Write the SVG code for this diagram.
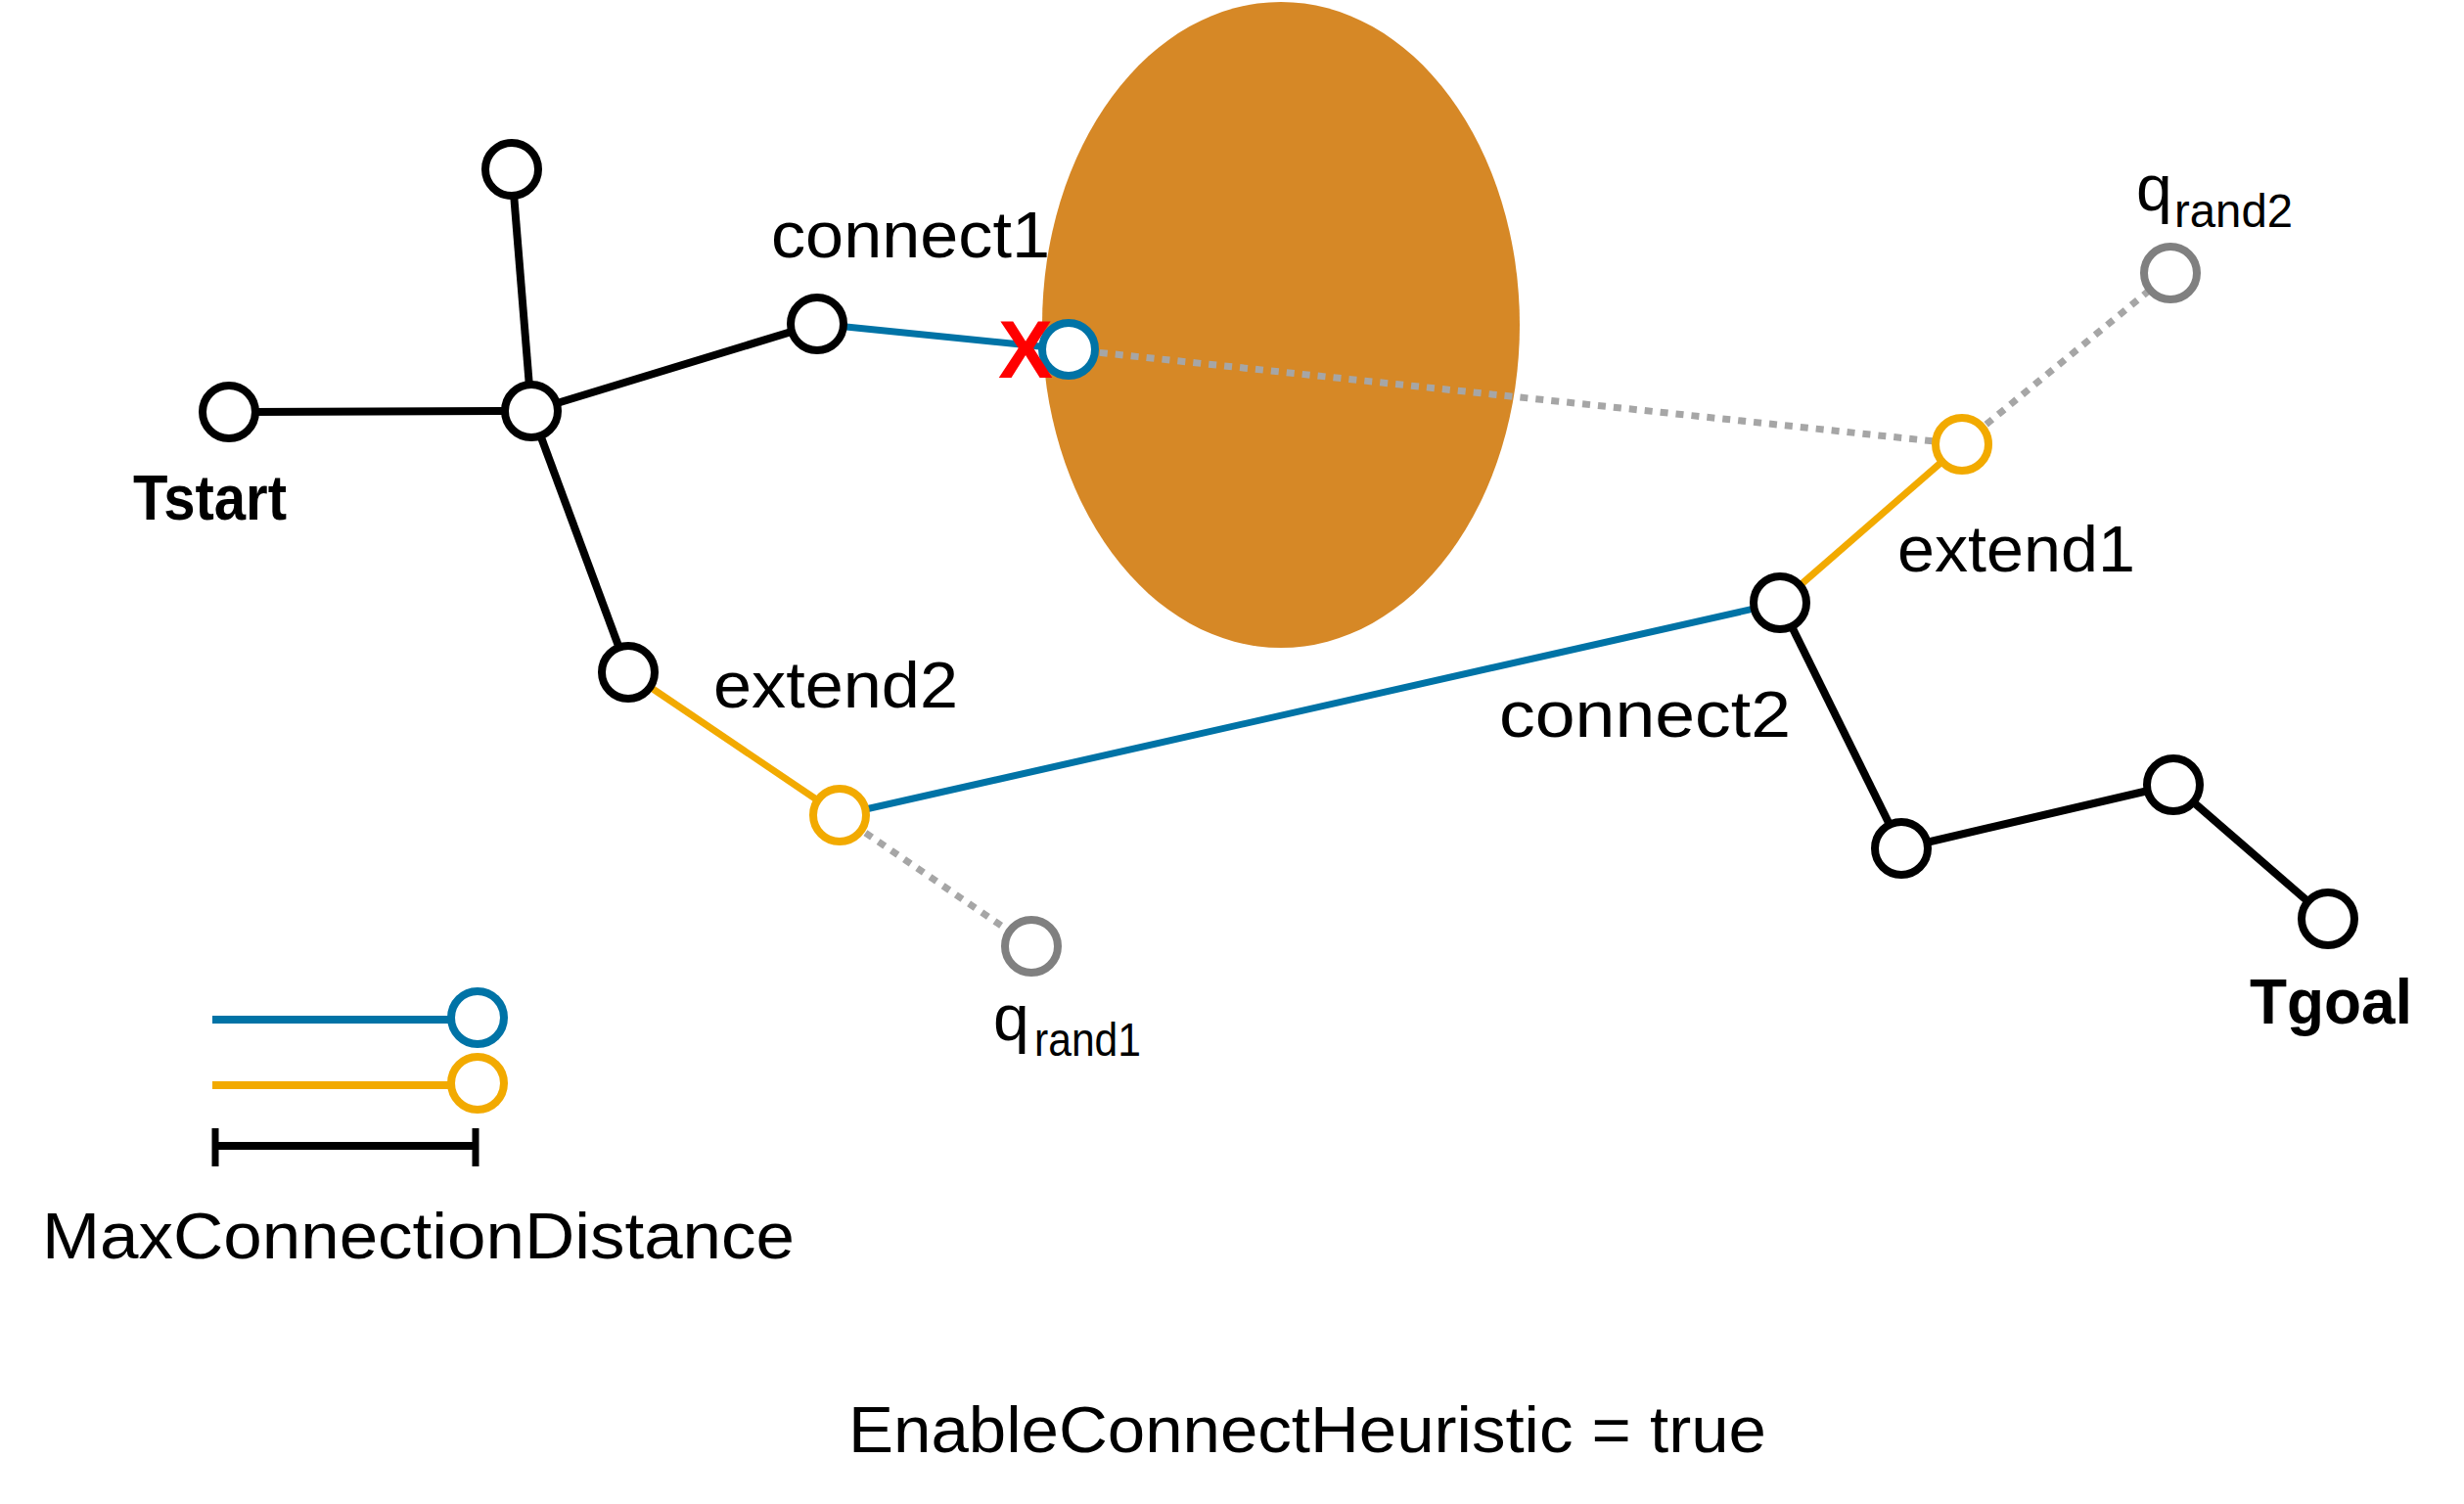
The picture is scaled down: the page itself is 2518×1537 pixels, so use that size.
<svg xmlns="http://www.w3.org/2000/svg" width="2518" height="1537" viewBox="0 0 2518 1537">
  <style>
    .edge { fill: none; stroke: #000; stroke-width: 8; }
    .blue { fill: none; stroke: #0073A6; stroke-width: 7; }
    .orange { fill: none; stroke: #F2AA00; stroke-width: 7; }
    .dots { fill: none; stroke: #A6A6A6; stroke-width: 7; stroke-dasharray: 8 8; }
    .node { fill: #fff; stroke: #000; stroke-width: 8; }
    .bnode { fill: #fff; stroke: #0073A6; stroke-width: 8; }
    .onode { fill: #fff; stroke: #F2AA00; stroke-width: 8; }
    .gnode { fill: #fff; stroke: #808080; stroke-width: 8; }
    .lbl { font-family: "Liberation Sans", Arial, sans-serif; font-size: 66px; fill: #000; }
    .bold { font-family: "Liberation Sans", Arial, sans-serif; font-size: 64px; font-weight: bold; fill: #000; }
    .sub { font-family: "Liberation Sans", Arial, sans-serif; font-size: 48px; fill: #000; }
  </style>
  <rect x="0" y="0" width="2518" height="1537" fill="#fff"/>

  <g id="obstacle">
    <ellipse cx="1309" cy="332" rx="244" ry="330" fill="#D68826"/>
  </g>

  <g id="connectors">
    <line class="edge" x1="523" y1="173" x2="543" y2="420"/>
    <line class="edge" x1="234" y1="421" x2="543" y2="420"/>
    <line class="edge" x1="543" y1="420" x2="835" y2="331"/>
    <line class="edge" x1="543" y1="420" x2="642" y2="687"/>
    <line class="blue" x1="835" y1="331" x2="1092" y2="357"/>
    <line class="dots" x1="1092" y1="357" x2="2005" y2="454"/>
    <line class="dots" x1="2005" y1="454" x2="2218" y2="279"/>
    <line class="orange" x1="642" y1="687" x2="858" y2="833"/>
    <line class="dots" x1="858" y1="833" x2="1054" y2="967"/>
    <line class="blue" x1="858" y1="833" x2="1819" y2="616"/>
    <line class="orange" x1="1819" y1="616" x2="2005" y2="454"/>
    <line class="edge" x1="1819" y1="616" x2="1943" y2="867"/>
    <line class="edge" x1="1943" y1="867" x2="2221" y2="802"/>
    <line class="edge" x1="2221" y1="802" x2="2379" y2="939"/>
  </g>

  <g id="node-top"><circle class="node" cx="523" cy="173" r="27"/></g>
  <g id="node-tstart"><circle class="node" cx="234" cy="421" r="27"/></g>
  <g id="node-hub"><circle class="node" cx="543" cy="420" r="27"/></g>
  <g id="node-b"><circle class="node" cx="835" cy="331" r="27"/></g>
  <g id="node-connect1"><circle class="bnode" cx="1092" cy="357" r="27"/></g>
  <g id="x-mark"><text x="1048" y="386" text-anchor="middle" font-family="Liberation Sans, Arial, sans-serif" font-size="84" font-weight="bold" fill="#FF0000">X</text></g>
  <g id="node-c"><circle class="node" cx="642" cy="687" r="27"/></g>
  <g id="node-extend2"><circle class="onode" cx="858" cy="833" r="27"/></g>
  <g id="node-qrand1"><circle class="gnode" cx="1054" cy="967" r="27"/></g>
  <g id="node-d"><circle class="node" cx="1819" cy="616" r="27"/></g>
  <g id="node-extend1"><circle class="onode" cx="2005" cy="454" r="27"/></g>
  <g id="node-qrand2"><circle class="gnode" cx="2218" cy="279" r="27"/></g>
  <g id="node-e"><circle class="node" cx="1943" cy="867" r="27"/></g>
  <g id="node-f"><circle class="node" cx="2221" cy="802" r="27"/></g>
  <g id="node-tgoal"><circle class="node" cx="2379" cy="939" r="27"/></g>

  <g id="labels">
    <text class="lbl" x="788" y="263" textLength="285" lengthAdjust="spacingAndGlyphs">connect1</text>
    <text class="lbl" x="1532" y="753" textLength="298" lengthAdjust="spacingAndGlyphs">connect2</text>
    <text class="lbl" x="729" y="723" textLength="250" lengthAdjust="spacingAndGlyphs">extend2</text>
    <text class="lbl" x="1939" y="584" textLength="243" lengthAdjust="spacingAndGlyphs">extend1</text>
    <text class="bold" x="136" y="531" textLength="157" lengthAdjust="spacingAndGlyphs">Tstart</text>
    <text class="bold" x="2299" y="1046" textLength="166" lengthAdjust="spacingAndGlyphs">Tgoal</text>
    <text class="lbl" x="1015" y="1063">q</text>
    <text class="sub" x="1057" y="1079" textLength="109" lengthAdjust="spacingAndGlyphs">rand1</text>
    <text class="lbl" x="2183" y="215">q</text>
    <text class="sub" x="2222" y="232" textLength="121" lengthAdjust="spacingAndGlyphs">rand2</text>
    <text class="lbl" x="43" y="1286" textLength="769" lengthAdjust="spacingAndGlyphs">MaxConnectionDistance</text>
    <text class="lbl" x="867" y="1484" textLength="938" lengthAdjust="spacingAndGlyphs">EnableConnectHeuristic = true</text>
  </g>

  <g id="legend">
    <line class="blue" x1="217" y1="1042" x2="462" y2="1042" style="stroke-width:8"/>
    <circle class="bnode" cx="488" cy="1040" r="27"/>
    <line class="orange" x1="217" y1="1109" x2="462" y2="1109" style="stroke-width:8"/>
    <circle class="onode" cx="488" cy="1107" r="27"/>
    <line class="edge" x1="220" y1="1171" x2="486" y2="1171"/>
    <line class="edge" x1="220" y1="1153" x2="220" y2="1192" style="stroke-width:7"/>
    <line class="edge" x1="486" y1="1153" x2="486" y2="1192" style="stroke-width:7"/>
  </g>
</svg>
